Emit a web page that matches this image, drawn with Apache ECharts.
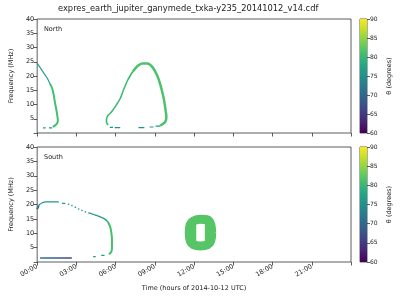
<!DOCTYPE html>
<html><head><meta charset="utf-8">
<script src="https://cdn.jsdelivr.net/npm/echarts@6/dist/echarts.min.js"></script>
<style>html,body{margin:0;padding:0;background:#fff}#c{width:400px;height:300px}</style>
</head><body><div id="c"></div>
<script>
// ---- tick labels ----
const hourTicks = [0, 3, 6, 9, 12, 15, 18, 21];
const freqTicks = [5, 10, 15, 20, 25, 30, 35, 40];
const thetaTicks = [60, 65, 70, 75, 80, 85, 90];

// ---- data: [time (h), frequency (MHz)] ----
// North hemisphere
const northUpperTail = [[0,24.4],[0.27,22.7],[0.52,20.9],[0.78,19.2],[0.97,17.4]];
const northLeftArc = [[0.97,17.4],[1.15,15.6],[1.27,13.3],[1.35,10.9],[1.45,8.6],[1.53,6.3],[1.58,4.5],[1.53,3.4],[1.33,2.5],[1.2,2.2]];
const northLoopLeft = [[5.43,2.8],[5.3,3.9],[5.35,5.7],[5.68,7.4],[6.05,9.8],[6.35,12.1],[6.6,15.1],[6.93,18.6],[7.3,21.5]];
const northLoopRight = [[7.3,21.5],[7.68,23.5],[8.05,24.4],[8.43,24.4],[8.8,23.2],[9.17,20.3],[9.43,16.8],[9.68,12.1],[9.8,8.6],[9.88,5.7],[9.8,3.9],[9.55,3.0],[9.4,2.6]];
const northDashes = [[0.45,0.65,1.8],[0.9,1.15,1.8],[5.55,5.8,2.0],[5.93,6.35,1.9],[7.75,8.2,1.9],[8.6,8.9,2.1],[9.05,9.4,2.4]]; // [t0, t1, f]
// theta (degrees) for each north segment: upperTail, leftArc, loopLeft, loopRight, dashes
const northTheta = [76.5, 81, 80.5, 81.5, 75.5];

// South hemisphere
const southStart = [[0,18.4],[0.12,19.6]];
const southTop = [[0.1,19.5],[0.15,19.9],[0.4,20.6],[0.65,20.9],[1.65,20.9]];
const southDotted = [[2.35,20.2],[2.65,19.6],[2.9,19.1],[3.15,18.5],[3.4,18.0],[3.65,17.5],[3.9,17.1]];
const southDescent = [[3.9,17.1],[4.03,17.0],[4.4,16.4],[4.78,15.8],[5.15,15.0],[5.4,14.0]];
const southRightArc = [[5.4,14.0],[5.58,12.3],[5.68,10.0],[5.72,7.7],[5.72,4.8],[5.65,3.4],[5.48,2.7]];
const southDashes = [[1.9,2.15,20.4],[4.28,4.48,1.9],[4.9,5.15,2.3]];
const southFloor = [[0.22,1.4],[2.65,1.4]];
const southFloorTheta = [72, 66]; // start, end
// ring-shaped emission around 12:00 (centre line of the ring, then its thicker side walls)
const southBlob = [[13.35,10.19],[13.27,13.1],[13.03,14.6],[12.49,14.85],[11.95,14.25],[11.71,13.1],[11.63,10.19],[11.71,7.28],[11.95,5.99],[12.49,5.57],[13.03,5.99],[13.27,7.28],[13.35,10.19],[13.27,13.1]];
const southBlobWallL = [[11.82,7.4],[11.82,13.0]];
const southBlobWallR = [[13.17,7.4],[13.17,13.0]];
// theta for: start, top, dotted, descent, rightArc, dashes, blob
const southTheta = [71, 75.5, 75.5, 77, 81, 76, 82];

// ---- viridis colour scale ----
const VIR = ['#440154','#482475','#414487','#355f8d','#2a788e','#21918c','#22a884','#44bf70','#7ad151','#bddf26','#fde725'];
function hex2rgb(h){return [1,3,5].map(i=>parseInt(h.substr(i,2),16));}
function vir(th){
  let u = Math.max(0, Math.min(1, (th - 60) / 30)) * 10;
  let i = Math.min(9, Math.floor(u)), f = u - i;
  const a = hex2rgb(VIR[i]), b = hex2rgb(VIR[i+1]);
  const c = a.map((v,k)=>Math.round(v + (b[k]-v)*f));
  return 'rgb(' + c.join(',') + ')';
}

const TXT = '#222';
const FONT = 'DejaVu Sans';
const fmtH = v => (v < 10 ? '0' : '') + v + ':00';

function seg(panel, data, theta, width, extra) {
  return Object.assign({
    type: 'line', xAxisIndex: panel, yAxisIndex: panel, data: data,
    showSymbol: false, silent: true, animation: false, clip: true,
    lineStyle: { color: vir(theta), width: width, cap: 'butt', join: 'round' }
  }, extra || {});
}
function dashes(panel, list, theta, width) {
  return list.map(d => seg(panel, [[d[0], d[2]], [d[1], d[2]]], theta, width));
}

const series = [];
// north
series.push(seg(0, northUpperTail, northTheta[0], 1.2));
series.push(seg(0, northLeftArc, northTheta[1], 2, { smooth: 0.3 }));
series.push(seg(0, northLoopLeft, northTheta[2], 1.6, { smooth: 0.3 }));
series.push(seg(0, northLoopRight, northTheta[3], 2.5, { smooth: 0.3 }));
series.push(...dashes(0, northDashes, northTheta[4], 1.2));
// south
series.push(seg(1, southStart, southTheta[0], 2));
series.push(seg(1, southTop, southTheta[1], 1.3, { smooth: 0.3 }));
const dotted = seg(1, southDotted, southTheta[2], 1.3);
dotted.lineStyle.type = [1.5, 2.2];
series.push(dotted);
series.push(seg(1, southDescent, southTheta[3], 1.3, { smooth: 0.3 }));
series.push(seg(1, southRightArc, southTheta[4], 2, { smooth: 0.3 }));
series.push(...dashes(1, southDashes, southTheta[5], 1.2));
const floor = seg(1, southFloor, southFloorTheta[0], 1.5);
floor.lineStyle.color = new echarts.graphic.LinearGradient(0, 0, 1, 0, [
  { offset: 0, color: vir(southFloorTheta[0]) }, { offset: 1, color: vir(southFloorTheta[1]) }]);
series.push(floor);
series.push(seg(1, southBlob, southTheta[6], 9, { smooth: 0.3 }));
[southBlobWallL, southBlobWallR].forEach(w => {
  const s = seg(1, w, southTheta[6], 9);
  s.lineStyle.cap = 'round';
  series.push(s);
});

// colour bars (stacked: transparent base to 60, gradient 60..90)
const grad = new echarts.graphic.LinearGradient(0, 1, 0, 0,
  VIR.map((c, i) => ({ offset: i / 10, color: c })));
[2, 3].forEach(g => {
  series.push({ type: 'bar', xAxisIndex: g, yAxisIndex: g, stack: 'cb' + g, data: [thetaTicks[0]],
    barWidth: '100%', silent: true, animation: false, itemStyle: { color: 'rgba(0,0,0,0)' } });
  series.push({ type: 'bar', xAxisIndex: g, yAxisIndex: g, stack: 'cb' + g,
    data: [thetaTicks[thetaTicks.length - 1] - thetaTicks[0]],
    barWidth: '100%', silent: true, animation: false, itemStyle: { color: grad } });
});

const gridBox = { show: true, borderColor: '#333', borderWidth: 0.8, backgroundColor: 'transparent' };
const grids = [
  Object.assign({ left: 31, top: 19, width: 320, height: 114 }, gridBox),
  Object.assign({ left: 31, top: 147, width: 320, height: 115 }, gridBox),
  Object.assign({ left: 360, top: 19, width: 7, height: 114 }, gridBox),
  Object.assign({ left: 360, top: 147, width: 7, height: 115 }, gridBox)
];

function timeAxis(g, labels) {
  return {
    type: 'value', gridIndex: g, min: hourTicks[0], max: 24, interval: hourTicks[1] - hourTicks[0],
    axisLine: { show: false }, splitLine: { show: false },
    axisTick: { show: true, length: 3.5, lineStyle: { color: '#333', width: 0.8 } },
    axisLabel: { show: labels, rotate: 30, fontSize: 6.5, color: TXT, fontFamily: FONT, margin: 4,
      formatter: v => hourTicks.indexOf(v) >= 0 ? fmtH(v) : '' },
    name: labels ? 'Time (hours of 2014-10-12 UTC)' : '', nameLocation: 'middle', nameGap: 23,
    nameTextStyle: { fontSize: 6.5, color: TXT, fontFamily: FONT }
  };
}
function freqAxis(g) {
  return {
    type: 'value', gridIndex: g, min: 0, max: freqTicks[freqTicks.length - 1], interval: freqTicks[0],
    axisLine: { show: false }, splitLine: { show: false },
    axisTick: { show: true, length: 3.5, lineStyle: { color: '#333', width: 0.8 } },
    axisLabel: { fontSize: 6.5, color: TXT, fontFamily: FONT, margin: 3,
      formatter: v => freqTicks.indexOf(v) >= 0 ? String(v) : '' },
    name: 'Frequency (MHz)', nameLocation: 'middle', nameGap: 17, nameRotate: 90,
    nameTextStyle: { fontSize: 6.5, color: TXT, fontFamily: FONT }
  };
}
function cbX(g) {
  return { type: 'category', gridIndex: g, data: [''], show: false };
}
function cbY(g) {
  return {
    type: 'value', gridIndex: g, min: thetaTicks[0], max: thetaTicks[thetaTicks.length - 1],
    interval: thetaTicks[1] - thetaTicks[0], position: 'right',
    axisLine: { show: false }, splitLine: { show: false },
    axisTick: { show: true, length: 3, lineStyle: { color: '#333', width: 0.8 } },
    axisLabel: { fontSize: 6, color: TXT, fontFamily: FONT, margin: 3 },
    name: 'θ (degrees)', nameLocation: 'middle', nameGap: 19, nameRotate: 90,
    nameTextStyle: { fontSize: 6.5, color: TXT, fontFamily: FONT }
  };
}

const chart = echarts.init(document.getElementById('c'), null, { renderer: 'canvas' });
chart.setOption({
  animation: false,
  backgroundColor: '#fff',
  grid: grids,
  xAxis: [timeAxis(0, false), timeAxis(1, true), cbX(2), cbX(3)],
  yAxis: [freqAxis(0), freqAxis(1), cbY(2), cbY(3)],
  series: series,
  graphic: [
    { type: 'text', left: 58, top: 5, style: { text: 'expres_earth_jupiter_ganymede_txka-y235_20141012_v14.cdf',
      fontSize: 8.3, fill: TXT, fontFamily: FONT } },
    { type: 'text', left: 44, top: 26, style: { text: 'North', fontSize: 6.5, fill: TXT, fontFamily: FONT } },
    { type: 'text', left: 44, top: 154, style: { text: 'South', fontSize: 6.5, fill: TXT, fontFamily: FONT } }
  ]
});
</script></body></html>
